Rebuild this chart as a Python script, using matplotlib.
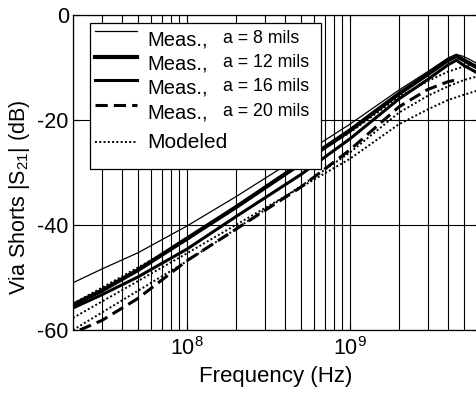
import numpy as np
import matplotlib
matplotlib.use('Agg')
import matplotlib.pyplot as plt
from matplotlib.ticker import LogLocator, FixedLocator, NullFormatter

plt.rcParams['font.family'] = ['Liberation Sans', 'DejaVu Sans']
plt.rcParams['mathtext.fontset'] = 'custom'
plt.rcParams['mathtext.rm'] = 'Liberation Sans'
plt.rcParams['mathtext.it'] = 'Liberation Sans'

# frequencies (Hz) and |S21| (dB)
freq = [2e7, 3e7, 5e7, 1e8, 2e8, 5e8, 1e9, 2e9, 3e9, 4e9, 4.5e9, 5e9, 6.2e9]
meas_8 = [-51.0, -48.4, -45.3, -40.2, -34.6, -26.8, -20.8, -14.3, -10.8, -8.2, -7.5, -7.9, -9.4]
meas_12 = [-55.2, -52.5, -48.6, -42.6, -36.6, -28.3, -22.0, -15.0, -11.3, -8.6, -7.8, -8.6, -10.2]
meas_16 = [-55.8, -53.3, -49.9, -44.6, -38.4, -30.4, -23.6, -16.0, -12.3, -9.5, -8.6, -9.6, -11.2]
freq_20 = [2.2e7, 3e7, 5e7, 1e8, 2e8, 5e8, 1e9, 2e9, 3e9, 4e9, 4.6e9]
meas_20 = [-60.0, -58.2, -54.0, -46.8, -40.8, -32.8, -25.7, -17.5, -14.2, -12.7, -12.3]

freq_mod = [2e7, 1e8, 5e8, 1e9, 2e9, 3e9, 4e9, 5e9, 6.2e9]
mod_a = [-55.0, -42.9, -28.0, -22.4, -15.6, -12.6, -10.8, -9.8, -9.2]
mod_b = [-60.0, -46.9, -32.6, -26.2, -18.6, -15.4, -13.6, -12.4, -11.6]
mod_c = [-57.7, -45.4, -32.8, -27.4, -20.8, -18.0, -16.2, -15.2, -14.3]

yticks = [-60, -40, -20, 0]
xticks = [1e8, 1e9]
xticklabels = [r'$10^{8}$', r'$10^{9}$']

fig = plt.figure(figsize=(4.76, 3.94), dpi=100)
ax = fig.add_axes([73/476, 64/394, 406/476, 315/394])

ax.plot(freq, meas_8, color='black', lw=0.9)
ax.plot(freq, meas_12, color='black', lw=3.0)
ax.plot(freq, meas_16, color='black', lw=2.2)
ax.plot(freq_20, meas_20, color='black', lw=2.2, ls=(0, (4, 2)))
for m in (mod_a, mod_b, mod_c):
    ax.plot(freq_mod, m, color='black', lw=1.4, ls=(0, (1, 1.2)))

ax.set_xscale('log')
ax.set_xlim(2e7, 6.2e9)
ax.set_ylim(-60, 0)
ax.xaxis.set_major_locator(FixedLocator(xticks))
ax.set_xticklabels(xticklabels)
ax.xaxis.set_minor_locator(LogLocator(base=10, subs=np.arange(2, 10)))
ax.xaxis.set_minor_formatter(NullFormatter())
ax.set_yticks(yticks)
ax.set_yticklabels([str(v) for v in yticks])
ax.grid(True, which='both', axis='x', color='black', lw=0.8)
ax.grid(True, which='major', axis='y', color='black', lw=0.8)
ax.tick_params(which='both', direction='in', top=True, right=True, labelsize=15.5, length=4)
ax.tick_params(axis='x', pad=5)
ax.tick_params(axis='y', pad=3)
for s in ax.spines.values():
    s.set_linewidth(0.9)

ax.set_xlabel('Frequency (Hz)', fontsize=16)
ax.xaxis.set_label_coords(0.5, -0.115)
ax.set_ylabel(r'Via Shorts |S$_{21}$| (dB)', fontsize=15.5)
ax.yaxis.set_label_coords(-0.1, 0.42)

# legend drawn by hand, MATLAB style
aw, ah = 406.0, 315.0
def axc(px, py):
    return ((px - 73) / aw, (330 - py) / ah)

x0, y0 = axc(90, 169)
x1, y1 = axc(321, 23)
ax.add_patch(plt.Rectangle((x0, y0), x1 - x0, y1 - y0, transform=ax.transAxes,
                           facecolor='white', edgecolor='black', lw=0.9, zorder=5))
rows = [
    (31, 40, 'a = 8 mils', dict(lw=0.9)),
    (57, 64, 'a = 12 mils', dict(lw=3.0)),
    (80, 88, 'a = 16 mils', dict(lw=2.2)),
    (105, 113, 'a = 20 mils', dict(lw=2.2, ls=(0, (4, 2)))),
]
for ly, ty, small, style in rows:
    lx0, lyy = axc(95, ly)
    lx1, _ = axc(137, ly)
    ax.plot([lx0, lx1], [lyy, lyy], transform=ax.transAxes, color='black', zorder=6, **style)
    tx, tyy = axc(147, ty)
    ax.text(tx, tyy, 'Meas.,', transform=ax.transAxes, fontsize=14.5, va='center', zorder=7)
    sx, _ = axc(223, ty)
    ax.text(sx, tyy + 0.004, small, transform=ax.transAxes, fontsize=12.8, va='center', zorder=7)
lx0, lyy = axc(95, 142)
lx1, _ = axc(137, 142)
ax.plot([lx0, lx1], [lyy, lyy], transform=ax.transAxes, color='black', lw=1.4,
        ls=(0, (1, 1.2)), zorder=6)
tx, tyy = axc(147, 142)
ax.text(tx, tyy, 'Modeled', transform=ax.transAxes, fontsize=15, va='center', zorder=7)

fig.savefig('out.png', dpi=100)
